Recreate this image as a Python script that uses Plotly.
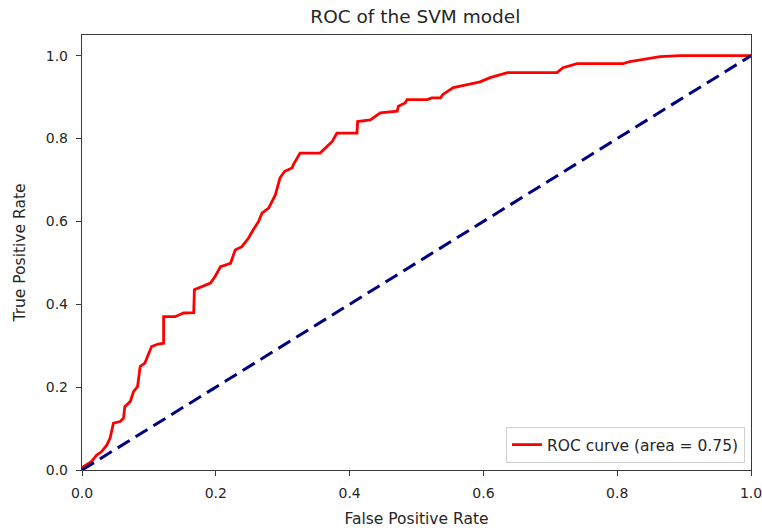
import plotly.graph_objects as go

# ROC curve points of the SVM classifier
fpr = [0.0, 0.002, 0.014, 0.022, 0.029, 0.037, 0.042, 0.047, 0.057, 0.062,
       0.064, 0.072, 0.077, 0.083, 0.087, 0.094, 0.099, 0.104, 0.114, 0.122,
       0.122, 0.139, 0.152, 0.167, 0.168, 0.179, 0.192, 0.199, 0.207, 0.222,
       0.229, 0.239, 0.249, 0.256, 0.264, 0.269, 0.279, 0.289, 0.294, 0.296,
       0.303, 0.314, 0.316, 0.326, 0.356, 0.366, 0.374, 0.381, 0.411, 0.412,
       0.431, 0.446, 0.471, 0.473, 0.483, 0.486, 0.516, 0.523, 0.536, 0.539,
       0.555, 0.576, 0.595, 0.610, 0.636, 0.710, 0.719, 0.740, 0.809, 0.819,
       0.845, 0.864, 0.894, 1.0]
tpr = [0.0, 0.008, 0.020, 0.036, 0.044, 0.060, 0.077, 0.113, 0.117, 0.125,
       0.153, 0.165, 0.189, 0.201, 0.250, 0.258, 0.278, 0.298, 0.304, 0.306,
       0.370, 0.370, 0.379, 0.380, 0.435, 0.443, 0.451, 0.467, 0.491, 0.499,
       0.531, 0.539, 0.560, 0.580, 0.600, 0.620, 0.632, 0.664, 0.693, 0.705,
       0.721, 0.729, 0.737, 0.765, 0.765, 0.781, 0.793, 0.813, 0.813, 0.841,
       0.845, 0.862, 0.866, 0.878, 0.886, 0.894, 0.894, 0.898, 0.898, 0.906,
       0.923, 0.930, 0.937, 0.947, 0.959, 0.959, 0.971, 0.981, 0.981, 0.986,
       0.993, 0.998, 1.0, 1.0]
roc_auc = 0.75

# chance diagonal
chance_x = [0.0, 1.0]
chance_y = [0.0, 1.0]

tick_vals = [0.0, 0.2, 0.4, 0.6, 0.8, 1.0]
tick_text = ["0.0", "0.2", "0.4", "0.6", "0.8", "1.0"]

font_family = "DejaVu Sans"
axis_color = "#3a3a3a"
text_color = "#262626"

fig = go.Figure()
fig.add_trace(go.Scatter(
    x=fpr, y=tpr, mode="lines",
    line=dict(color="red", width=2.8),
    name=f"ROC curve (area = {roc_auc:.2f})",
))
fig.add_trace(go.Scatter(
    x=chance_x, y=chance_y, mode="lines",
    line=dict(color="navy", width=3, dash="14px,7px"),
    showlegend=False,
))

axis_common = dict(
    showline=True, mirror=True, linecolor=axis_color, linewidth=1.4,
    ticks="outside", ticklen=5, tickwidth=1.2, tickcolor=axis_color,
    ticklabelstandoff=5, ticklabeloverflow="allow", automargin=False,
    showgrid=False, zeroline=False,
    tickvals=tick_vals, ticktext=tick_text,
    tickfont=dict(family=font_family, size=14, color=text_color),
)

fig.update_layout(
    width=762, height=531,
    margin=dict(l=82, r=11, t=35, b=61),
    paper_bgcolor="white", plot_bgcolor="white",
    title=dict(
        text="ROC of the SVM model",
        x=0.545, xanchor="center", y=0.968, yanchor="middle",
        font=dict(family=font_family, size=18.5, color=text_color),
    ),
    xaxis=dict(
        range=[0, 1],
        title=dict(text="False Positive Rate", standoff=13,
                   font=dict(family=font_family, size=15.5, color=text_color)),
        **axis_common,
    ),
    yaxis=dict(
        range=[0, 1.05],
        title=dict(text="True Positive Rate", standoff=16,
                   font=dict(family=font_family, size=15.5, color=text_color)),
        **axis_common,
    ),
    legend=dict(
        x=0.991, y=0.016, xanchor="right", yanchor="bottom",
        bgcolor="white", bordercolor="#d0d0d0", borderwidth=1,
        font=dict(family=font_family, size=15.5, color=text_color),
    ),
    showlegend=True,
)

fig.write_html("out.html")
